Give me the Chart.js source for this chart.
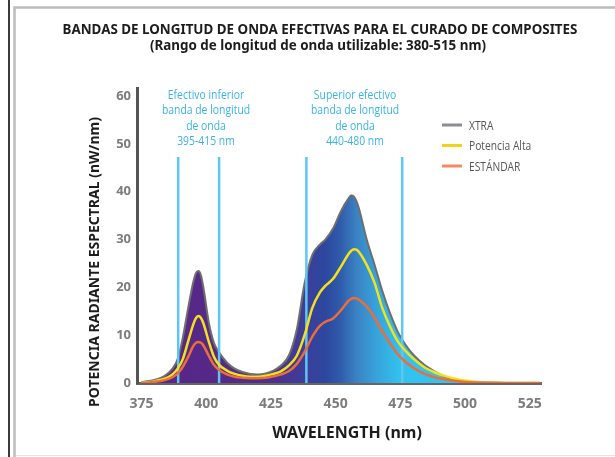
<!DOCTYPE html>
<html>
<head>
<meta charset="utf-8">
<style>
  html, body { margin: 0; padding: 0; background: #fff; }
  #wrap { width: 615px; height: 457px; }
</style>
<script src="https://cdn.jsdelivr.net/npm/chart.js@4.4.1/dist/chart.umd.min.js"></script>
</head>
<body>
<div id="wrap"><canvas id="chart" width="615" height="457"></canvas></div>
<script>
// Data
const wavelengths = [375, 378, 381, 384, 387, 389, 391, 393, 395, 396, 397, 398, 399, 401, 403, 405, 408, 411, 414, 417,
                     420, 423, 426, 429, 432, 435, 438, 441, 444, 446, 449, 452, 455, 456, 457, 458, 459, 462, 465, 468,
                     471, 474, 477, 480, 484, 488, 492, 496, 500, 505, 510, 515, 520, 525, 529];
const xtra = [0.2, 0.4, 0.8, 1.5, 3.0, 5.0, 9.5, 15.5, 21.0, 22.9, 23.4, 22.5, 19.8, 12.7, 8.4, 6.4, 4.3, 3.0, 2.3, 1.9,
              1.8, 2.0, 2.6, 3.7, 5.8, 11.2, 20.8, 26.8, 29.0, 30.0, 32.3, 35.9, 38.6, 39.2, 39.0, 38.1, 36.5, 30.0, 24.8, 19.3,
              14.6, 10.7, 8.0, 5.9, 3.9, 2.5, 1.4, 0.7, 0.3, 0.1, 0.05, 0, 0, 0, 0];
const potenciaAlta = [0.1, 0.2, 0.5, 0.9, 1.8, 3.0, 5.0, 8.6, 12.2, 13.5, 14.0, 13.6, 12.4, 8.7, 5.5, 3.8, 2.6, 1.9, 1.5, 1.3,
                      1.3, 1.5, 1.9, 2.5, 3.7, 5.7, 10.0, 15.7, 19.0, 20.3, 21.8, 24.3, 27.0, 27.6, 28.0, 27.9, 27.4, 24.7, 21.0, 15.7,
                      11.8, 8.7, 6.7, 5.1, 3.4, 2.3, 1.5, 0.9, 0.5, 0.2, 0.08, 0.03, 0, 0, 0];
const estandar = [0.05, 0.1, 0.3, 0.6, 1.2, 2.0, 3.4, 5.4, 7.7, 8.4, 8.6, 8.4, 7.8, 5.7, 3.8, 2.7, 1.8, 1.3, 1.1, 1.0,
                  1.0, 1.1, 1.4, 1.8, 2.5, 4.0, 6.5, 9.7, 12.0, 12.8, 13.5, 15.2, 17.2, 17.6, 17.8, 17.7, 17.4, 16.0, 13.7, 10.8,
                  8.3, 6.0, 4.4, 3.2, 2.0, 1.2, 0.8, 0.45, 0.2, 0.1, 0.03, 0, 0, 0, 0];

const seriesNames = ['XTRA', 'Potencia Alta', 'ESTÁNDAR'];
const xTicks = [375, 400, 425, 450, 475, 500, 525];
const yTicks = [0, 10, 20, 30, 40, 50, 60];
const bandLines = [389.2, 405, 438.7, 475.7];

const titleLines = ['BANDAS DE LONGITUD DE ONDA EFECTIVAS PARA EL CURADO DE COMPOSITES',
                    '(Rango de longitud de onda utilizable: 380-515 nm)'];
const yTitle = 'POTENCIA RADIANTE ESPECTRAL (nW/nm)';
const xTitle = 'WAVELENGTH (nm)';
const bandTextLow = ['Efectivo inferior', 'banda de longitud', 'de onda', '395-415 nm'];
const bandTextHigh = ['Superior efectivo', 'banda de longitud', 'de onda', '440-480 nm'];

// Styles
const seriesColors = ['#8d8d93', '#f2e21e', '#ea6e3c'];
const legendColors = ['#8d8d93', '#f7d117', '#f58a5c'];
const gradStops = [[375, '#5a2484'], [424, '#512d8d'], [436, '#3f3c98'], [446, '#2d479f'],
                   [452, '#2f5cab'], [458, '#3a82c3'], [466, '#37a4db'], [475, '#33c2ef'], [529, '#33c6f2']];

function toPoints(arr) {
    return wavelengths.map((x, i) => ({ x: x, y: arr[i] }));
}

function xtraFill(context) {
    const chart = context.chart;
    if (!chart.chartArea) return null;
    const xs = chart.scales.x;
    const x0 = xs.getPixelForValue(375);
    const x1 = xs.getPixelForValue(529);
    const g = chart.ctx.createLinearGradient(x0, 0, x1, 0);
    gradStops.forEach(s => {
        g.addColorStop((xs.getPixelForValue(s[0]) - x0) / (x1 - x0), s[1]);
    });
    return g;
}

// narrow text: squeeze the regular face horizontally
function narrowText(c, text, x, y, squeeze) {
    c.save();
    c.translate(x, y);
    c.scale(squeeze, 1);
    c.fillText(text, 0, 0);
    c.restore();
}

const decor = {
    id: 'decor',
    beforeDraw(chart) {
        const c = chart.ctx;
        c.save();
        c.fillStyle = '#fff';
        c.fillRect(0, 0, chart.width, chart.height);
        // frame of the original figure
        c.strokeStyle = '#3a3a3a';
        c.lineWidth = 2;
        c.beginPath(); c.moveTo(9, 0); c.lineTo(9, 457); c.stroke();
        c.strokeStyle = '#bcbcbc';
        c.lineWidth = 2.5;
        c.beginPath(); c.moveTo(14.5, 457); c.lineTo(14.5, 7.5); c.lineTo(615, 7.5); c.stroke();
        c.strokeStyle = '#e4e4e4';
        c.lineWidth = 1;
        c.beginPath(); c.moveTo(16, 455.5); c.lineTo(615, 455.5); c.stroke();
        c.restore();
    },
    afterDatasetDraw(chart, args) {
        if (args.index !== 0) return;
        const c = chart.ctx;
        const xs = chart.scales.x;
        c.save();
        c.strokeStyle = '#5ec6f3';
        c.lineWidth = 2.5;
        bandLines.forEach(v => {
            const px = xs.getPixelForValue(v);
            c.beginPath();
            c.moveTo(px, 157);
            c.lineTo(px, chart.chartArea.bottom);
            c.stroke();
        });
        c.restore();
    },
    afterDraw(chart) {
        const c = chart.ctx;
        c.save();
        // title
        c.fillStyle = '#1c1c1c';
        c.textAlign = 'center';
        c.textBaseline = 'middle';
        c.font = "bold 13.4px 'Noto Sans'";
        c.fillText(titleLines[0], 320, 30);
        c.fillText(titleLines[1], 318, 46);
        // axis titles
        c.font = "bold 16px 'Noto Sans'";
        c.fillText(xTitle, 347, 433);
        c.save();
        c.translate(95, 262);
        c.rotate(-Math.PI / 2);
        c.font = "bold 14px 'Noto Sans'";
        c.fillText(yTitle, 0, 0);
        c.restore();
        // band notes
        c.fillStyle = '#3ab4e6';
        c.font = "13px 'Open Sans'";
        bandTextLow.forEach((t, i) => narrowText(c, t, 206, 95 + i * 15.5, 0.8));
        bandTextHigh.forEach((t, i) => narrowText(c, t, 355, 95 + i * 15.5, 0.8));
        // legend
        c.textAlign = 'left';
        c.font = "12.5px 'Open Sans'";
        seriesNames.forEach((name, i) => {
            const y = 125 + i * 20.5;
            c.strokeStyle = legendColors[i];
            c.lineWidth = 3;
            c.beginPath(); c.moveTo(442, y); c.lineTo(462, y); c.stroke();
            c.fillStyle = '#555';
            narrowText(c, name, 469, y + 1, 0.82);
        });
        c.restore();
    }
};

const ctx = document.getElementById('chart');
new Chart(ctx, {
    type: 'line',
    data: {
        datasets: [{
            label: seriesNames[0],
            data: toPoints(xtra),
            borderColor: '#6e6e6e',
            borderWidth: 2,
            backgroundColor: xtraFill,
            fill: 'origin',
            pointRadius: 0,
            cubicInterpolationMode: 'monotone',
            order: 3
        }, {
            label: seriesNames[1],
            data: toPoints(potenciaAlta),
            borderColor: seriesColors[1],
            borderWidth: 2.5,
            fill: false,
            pointRadius: 0,
            cubicInterpolationMode: 'monotone',
            order: 2
        }, {
            label: seriesNames[2],
            data: toPoints(estandar),
            borderColor: seriesColors[2],
            borderWidth: 2.5,
            fill: false,
            pointRadius: 0,
            cubicInterpolationMode: 'monotone',
            order: 1
        }]
    },
    options: {
        responsive: false,
        animation: false,
        layout: { padding: { top: 88, right: 74, bottom: 0, left: 0 } },
        plugins: {
            legend: { display: false },
            title: { display: false },
            tooltip: { enabled: false }
        },
        scales: {
            x: {
                type: 'linear',
                min: 373.3,
                max: 529.3,
                afterBuildTicks: s => { s.ticks = xTicks.map(v => ({ value: v })); },
                afterFit: s => { s.height = 74; },
                grid: { display: false, drawTicks: false },
                border: { color: '#666', width: 3 },
                ticks: {
                    color: '#7c7c7c',
                    padding: 13,
                    maxRotation: 0,
                    font: { family: 'Noto Sans', size: 14, weight: 'bold' }
                }
            },
            y: {
                min: 0,
                max: 61.7,
                afterBuildTicks: s => { s.ticks = yTicks.map(v => ({ value: v })); },
                afterFit: s => { s.width = 137; },
                grid: { display: false, drawTicks: false },
                border: { color: '#555', width: 3 },
                ticks: {
                    color: '#7c7c7c',
                    padding: 6,
                    font: { family: 'Noto Sans', size: 13, weight: 'bold' }
                }
            }
        }
    },
    plugins: [decor]
});
</script>
</body>
</html>
